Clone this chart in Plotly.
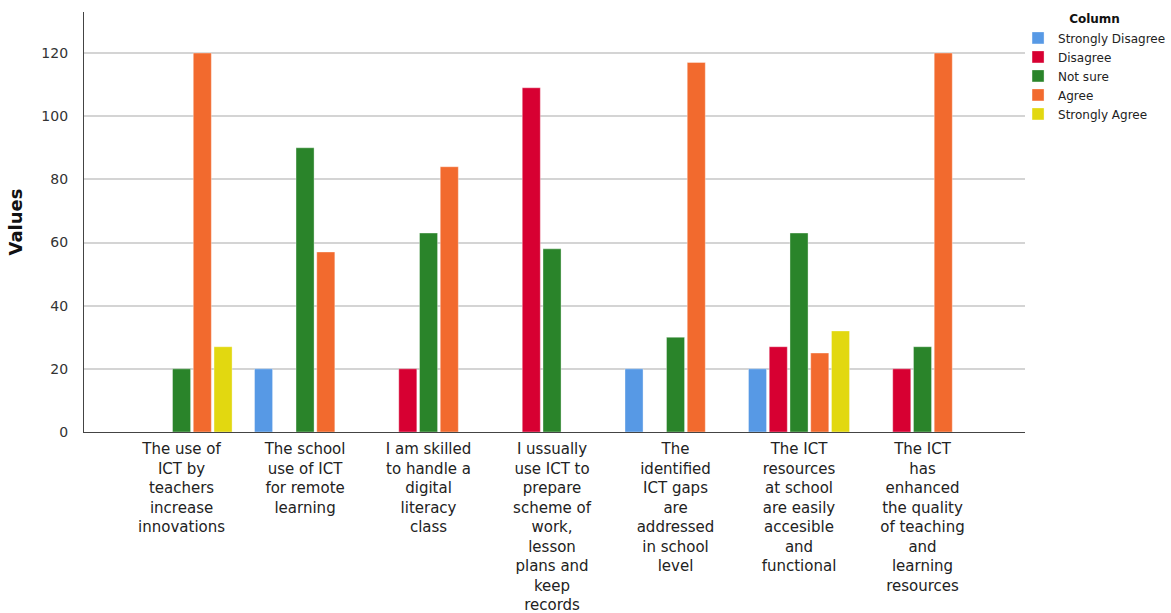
import plotly.graph_objects as go

categories = [
    "The use of<br>ICT by<br>teachers<br>increase<br>innovations",
    "The school<br>use of ICT<br>for remote<br>learning",
    "I am skilled<br>to handle a<br>digital<br>literacy<br>class",
    "I ussually<br>use ICT to<br>prepare<br>scheme of<br>work,<br>lesson<br>plans and<br>keep<br>records",
    "The<br>identified<br>ICT gaps<br>are<br>addressed<br>in school<br>level",
    "The ICT<br>resources<br>at school<br>are easily<br>accesible<br>and<br>functional",
    "The ICT<br>has<br>enhanced<br>the quality<br>of teaching<br>and<br>learning<br>resources",
]

strongly_disagree = [None, 20, None, None, 20, 20, None]
disagree = [None, None, 20, 109, None, 27, 20]
not_sure = [20, 90, 63, 58, 30, 63, 27]
agree = [120, 57, 84, None, 117, 25, 120]
strongly_agree = [27, None, None, None, None, 32, None]

series = [
    ("Strongly Disagree", strongly_disagree, "#5799e5"),
    ("Disagree", disagree, "#d70032"),
    ("Not sure", not_sure, "#2a842a"),
    ("Agree", agree, "#f26a2e"),
    ("Strongly Agree", strongly_agree, "#e2d810"),
]

fig = go.Figure()
for name, vals, color in series:
    fig.add_trace(go.Bar(
        x=categories, y=vals, name=name,
        marker=dict(color=color, line=dict(color="rgba(255,255,255,0.6)", width=0.6)),
    ))

fig.update_layout(
    width=1171, height=613,
    margin=dict(l=84, r=146, t=12, b=181, autoexpand=False),
    plot_bgcolor="white", paper_bgcolor="white",
    barmode="group", bargap=0.16, bargroupgap=0.13,
    font=dict(family="DejaVu Sans", color="#222"),
    legend=dict(
        title=dict(text="<b>Column</b>", side="top center",
                   font=dict(family="DejaVu Sans", size=12, color="#111")),
        x=0.9926, xanchor="left", y=1.01, yanchor="top",
        font=dict(family="DejaVu Sans", size=12, color="#222"),
        itemwidth=30, tracegroupgap=0, bgcolor="rgba(0,0,0,0)",
    ),
    xaxis=dict(
        range=[-0.79, 6.83], showline=True, linecolor="#444", linewidth=1.2,
        tickfont=dict(family="DejaVu Sans", size=15, color="#222"),
        ticks="", showgrid=False, automargin=False, ticklabelstandoff=3,
    ),
    yaxis=dict(
        range=[0, 133], tickvals=[0, 20, 40, 60, 80, 100, 120],
        showline=True, linecolor="#444", linewidth=1.2,
        gridcolor="#d4d4d4", gridwidth=1.5, zeroline=False,
        tickfont=dict(family="DejaVu Sans", size=14, color="#333"),
        ticklabelstandoff=12, automargin=False,
        title=dict(text="<b>Values</b>", font=dict(family="DejaVu Sans", size=18, color="#111"),
                   standoff=14),
    ),
)

fig.write_html("out.html", config={"displayModeBar": False},
               post_script="document.body.style.margin='0';")
